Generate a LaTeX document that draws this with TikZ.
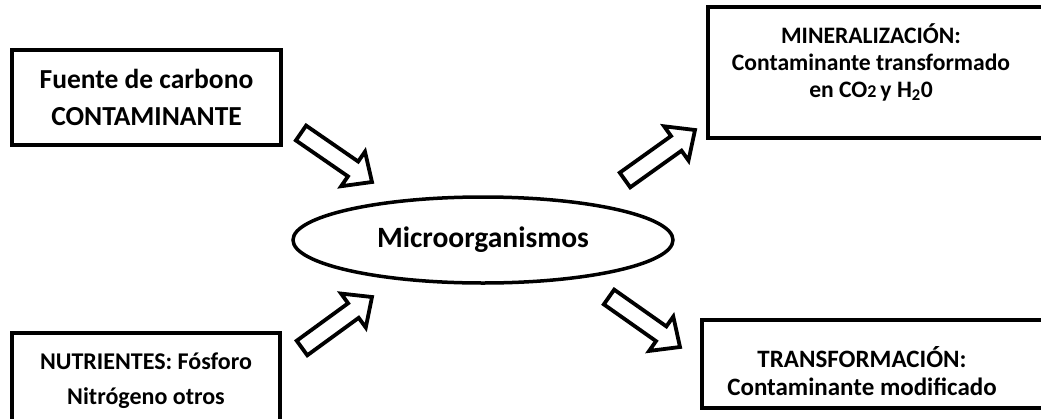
\documentclass[tikz,border=0pt]{standalone}
\usepackage{fontspec}
\setmainfont{Carlito}
\usetikzlibrary{calc,shapes.geometric}
\tikzset{
  box/.style={draw, line width=3.8pt, inner sep=0pt},
  txt/.style={align=center, inner sep=0pt},
  hollow/.style={draw, line width=3.8pt, line join=miter, fill=white},
}
\newcommand\blockarrow[2]{%
  \path ($(#2)!23pt!(#1)$) coordinate (S);
  \draw[hollow] ($(#1)!9pt!90:(#2)$) -- ($(S)!9pt!-90:(#1)$) -- ($(S)!21pt!-90:(#1)$) -- (#2)
    -- ($(S)!21pt!90:(#1)$) -- ($(S)!9pt!90:(#1)$) -- ($(#1)!9pt!-90:(#2)$) -- cycle;
}
\begin{document}
\begin{tikzpicture}[x=1pt,y=-1pt]
\useasboundingbox (0,0) rectangle (1041,418);
\fill[white] (0,0) rectangle (1041,418);
% boxes
\node[box, txt, minimum width=269pt, minimum height=95pt,
  font=\bfseries\fontsize{27.5}{37}\selectfont] (fuente) at (146.5,97.5)
  {Fuente de carbono\\CONTAMINANTE};
\node[box, minimum width=340pt, minimum height=131pt] (mineral) at (878,72.5) {};
\node[txt, font=\bfseries\fontsize{23.6}{27}\selectfont] (mineraltxt) at (871,62)
  {MINERALIZACIÓN:\\Contaminante transformado\\en CO{\fontsize{18}{18}\selectfont 2}\,y H\textsubscript{2}0};
\node[box, txt, minimum width=268pt, minimum height=95pt,
  font=\bfseries\fontsize{24}{35}\selectfont] (nutri) at (146,380.5)
  {NUTRIENTES: Fósforo\\Nitrógeno otros};
\node[box, minimum width=345pt, minimum height=88pt] (transf) at (874.5,364) {};
\node[txt, font=\bfseries\fontsize{25}{28}\selectfont] (transftxt) at (862,371.5)
  {TRANSFORMACIÓN:\\Contaminante modificado};
% ellipse
\node[ellipse, draw, line width=3.5pt, minimum width=380pt, minimum height=86pt, inner sep=0pt,
  font=\bfseries\fontsize{29.5}{32}\selectfont] (micro) at (483,240) {Microorganismos};
% arrows
\coordinate (a1t) at (301,133);
\coordinate (a1h) at (372,182);
\coordinate (a3t) at (302,348);
\coordinate (a3h) at (372,297);
\coordinate (a2t) at (625,180);
\coordinate (a2h) at (695,130);
\coordinate (a4t) at (609,297);
\coordinate (a4h) at (680,347);
\blockarrow{a1t}{a1h}
\blockarrow{a3t}{a3h}
\blockarrow{a2t}{a2h}
\blockarrow{a4t}{a4h}
\end{tikzpicture}
\end{document}
